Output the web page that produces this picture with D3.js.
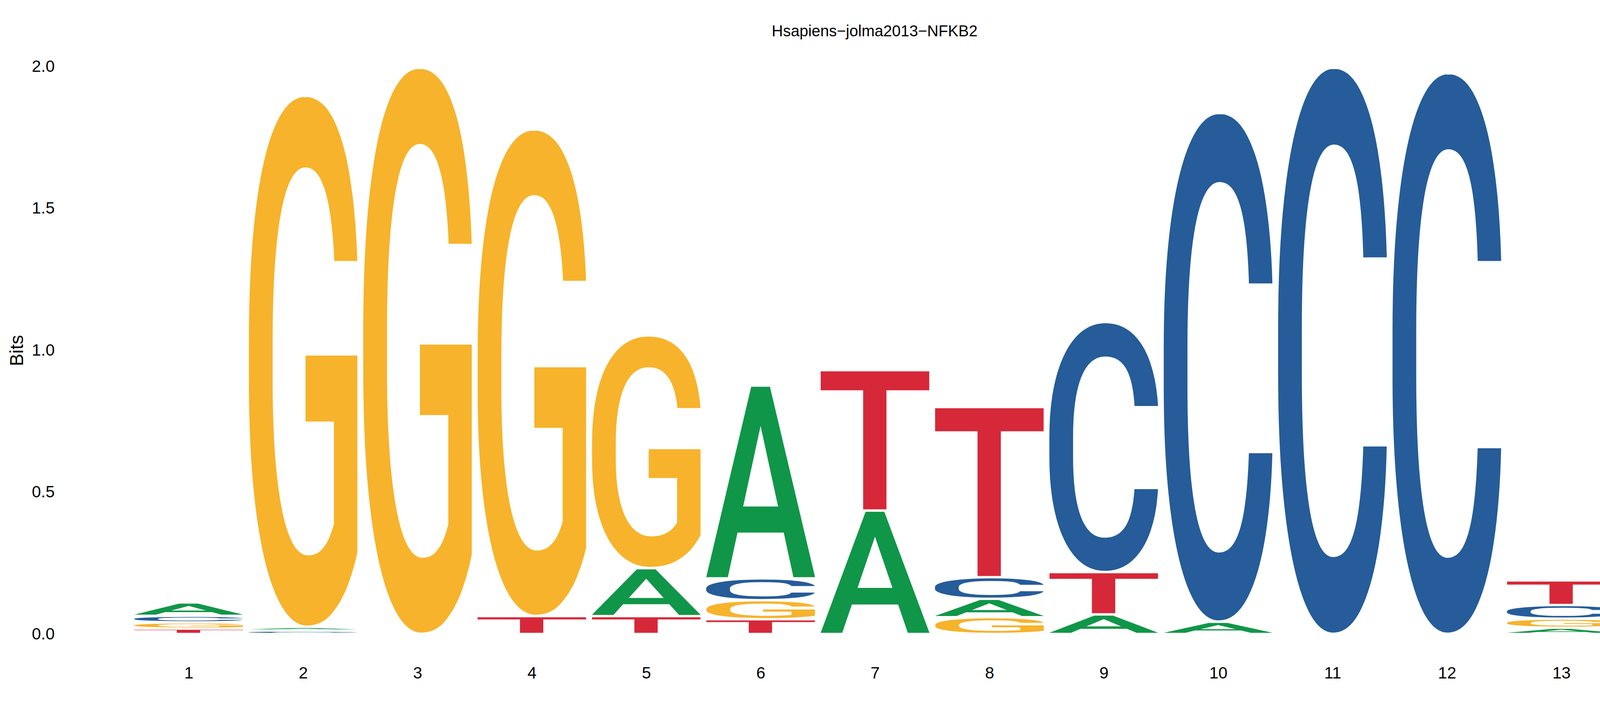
<!DOCTYPE html>
<html lang="en">
<head>
<meta charset="utf-8">
<title>Hsapiens-jolma2013-NFKB2</title>
<script src="https://cdn.jsdelivr.net/npm/d3@7"></script>
<style>
  body { margin: 0; background: #fff; }
  text { font-family: "Liberation Sans", Arial, sans-serif; }
</style>
</head>
<body>
<script>
// information content (bits) per base, positions 1..13
var positions = [1, 2, 3, 4, 5, 6, 7, 8, 9, 10, 11, 12, 13];
var bases = ["A", "C", "G", "T"];
var bitsA = [0.047, 0.013, 0.000, 0.000, 0.169, 0.680, 0.435, 0.065, 0.069, 0.043, 0.000, 0.000, 0.022];
var bitsC = [0.023, 0.012, 0.000, 0.000, 0.000, 0.077, 0.000, 0.076, 0.880, 1.791, 1.993, 1.974, 0.048];
var bitsG = [0.022, 1.869, 1.993, 1.713, 0.819, 0.067, 0.000, 0.059, 0.000, 0.000, 0.000, 0.000, 0.032];
var bitsT = [0.019, 0.000, 0.000, 0.063, 0.063, 0.052, 0.495, 0.600, 0.149, 0.000, 0.000, 0.000, 0.087];
var yTicks = [0, 0.5, 1, 1.5, 2];
var title = "Hsapiens\u2212jolma2013\u2212NFKB2";

var colors = { A: "#109648", C: "#255C99", G: "#F7B32B", T: "#D62839" };

var w = 4350, h = 1829;

var svg = d3.select("body").append("svg")
    .attr("width", w)
    .attr("height", h);

svg.append("rect").attr("width", w).attr("height", h).attr("fill", "#fff");

var xScale = d3.scaleLinear().domain([1, 13]).range([483, 3997]);
var yScale = d3.scaleLinear().domain([0, 2]).range([1624, 170]);
var step = xScale(2) - xScale(1);
var letterW = step * 0.95;
var pad = 3;

var fontSize = 1000;
var glyphFont = "Roboto";
var glyphWeight = 500;

// real ink box of a glyph: draw it on a canvas and scan the pixels
// (measureText bounds are loose on round letters)
function inkBox(ch) {
    var size = 600, ox = 300, oy = 900, cw = 1200, chh = 1200;
    var c = document.createElement("canvas");
    c.width = cw; c.height = chh;
    var cx = c.getContext("2d");
    cx.font = glyphWeight + " " + size + "px " + glyphFont;
    cx.textBaseline = "alphabetic";
    cx.fillStyle = "#000";
    cx.fillText(ch, ox, oy);
    var data = cx.getImageData(0, 0, cw, chh).data;
    var minX = cw, maxX = -1, minY = chh, maxY = -1;
    for (var y = 0; y < chh; y++) {
        for (var x = 0; x < cw; x++) {
            if (data[(y * cw + x) * 4 + 3] > 127) {
                if (x < minX) minX = x;
                if (x > maxX) maxX = x;
                if (y < minY) minY = y;
                if (y > maxY) maxY = y;
            }
        }
    }
    var k = fontSize / size;
    return {
        left: (ox - minX) * k,
        width: (maxX + 1 - minX) * k,
        asc: (oy - minY) * k,
        height: (maxY + 1 - minY) * k
    };
}

var ink = {};
bases.forEach(function(b) { ink[b] = inkBox(b); });

// build stacks, smallest at the bottom
var table = {A: bitsA, C: bitsC, G: bitsG, T: bitsT};
var glyphs = [];
positions.forEach(function(p, i) {
    var col = bases.map(function(b) { return {base: b, bits: table[b][i]}; })
        .filter(function(d) { return d.bits > 0; })
        .sort(function(a, b) { return a.bits - b.bits; });
    var cum = 0;
    col.forEach(function(d) {
        glyphs.push({pos: p, base: d.base, lo: cum, hi: cum + d.bits});
        cum += d.bits;
    });
});

// glyph box in pixels
glyphs.forEach(function(d, i) {
    var top = yScale(d.hi) + pad;
    var bottom = yScale(d.lo) - pad;
    if (bottom - top < 1.5) { var mid = (top + bottom) / 2; top = mid - 0.75; bottom = mid + 0.75; }
    d.x0 = xScale(d.pos) - letterW / 2;
    d.y0 = top;
    d.gh = bottom - top;
    d.id = "clip" + i;
});

var defs = svg.append("defs");
defs.selectAll("clipPath")
    .data(glyphs)
    .enter()
    .append("clipPath")
    .attr("id", function(d) { return d.id; })
    .append("rect")
    .attr("x", function(d) { return d.x0 - 1; })
    .attr("y", function(d) { return d.y0 - 1; })
    .attr("width", letterW + 2)
    .attr("height", function(d) { return d.gh + 2; });

svg.append("g").selectAll("g")
    .data(glyphs)
    .enter()
    .append("g")
    .attr("clip-path", function(d) { return "url(#" + d.id + ")"; })
    .append("text")
    .text(function(d) { return d.base; })
    .style("font-family", glyphFont)
    .attr("font-size", fontSize)
    .attr("font-weight", glyphWeight)
    .attr("fill", function(d) { return colors[d.base]; })
    .attr("transform", function(d) {
        var g = ink[d.base];
        return "translate(" + d.x0 + "," + d.y0 + ") scale(" + (letterW / g.width) + "," + (d.gh / g.height) + ") translate(" + g.left + "," + g.asc + ")";
    });

// axes without lines, like theme_logo
var yAxis = d3.axisLeft(yScale)
    .tickValues(yTicks)
    .tickFormat(d3.format(".1f"))
    .tickSize(0)
    .tickPadding(0);

var gy = svg.append("g")
    .attr("transform", "translate(140,0)")
    .call(yAxis);
gy.select(".domain").remove();
gy.selectAll("text")
    .attr("font-size", 42)
    .attr("font-family", "'Liberation Sans', Arial, sans-serif")
    .attr("fill", "#000");

var xAxis = d3.axisBottom(xScale)
    .tickValues(positions)
    .tickFormat(d3.format("d"))
    .tickSize(0)
    .tickPadding(0);

var gx = svg.append("g")
    .attr("transform", "translate(0,1708)")
    .call(xAxis);
gx.select(".domain").remove();
gx.selectAll("text")
    .attr("font-size", 42)
    .attr("font-family", "'Liberation Sans', Arial, sans-serif")
    .attr("fill", "#000");

svg.append("text")
    .attr("x", 42)
    .attr("y", 898)
    .attr("transform", "rotate(-90,42,898)")
    .attr("text-anchor", "middle")
    .attr("dominant-baseline", "central")
    .attr("font-size", 48)
    .attr("fill", "#000")
    .text("Bits");

svg.append("text")
    .attr("x", 2239)
    .attr("y", 93)
    .attr("text-anchor", "middle")
    .attr("font-size", 40)
    .attr("fill", "#000")
    .text(title);
</script>
</body>
</html>
